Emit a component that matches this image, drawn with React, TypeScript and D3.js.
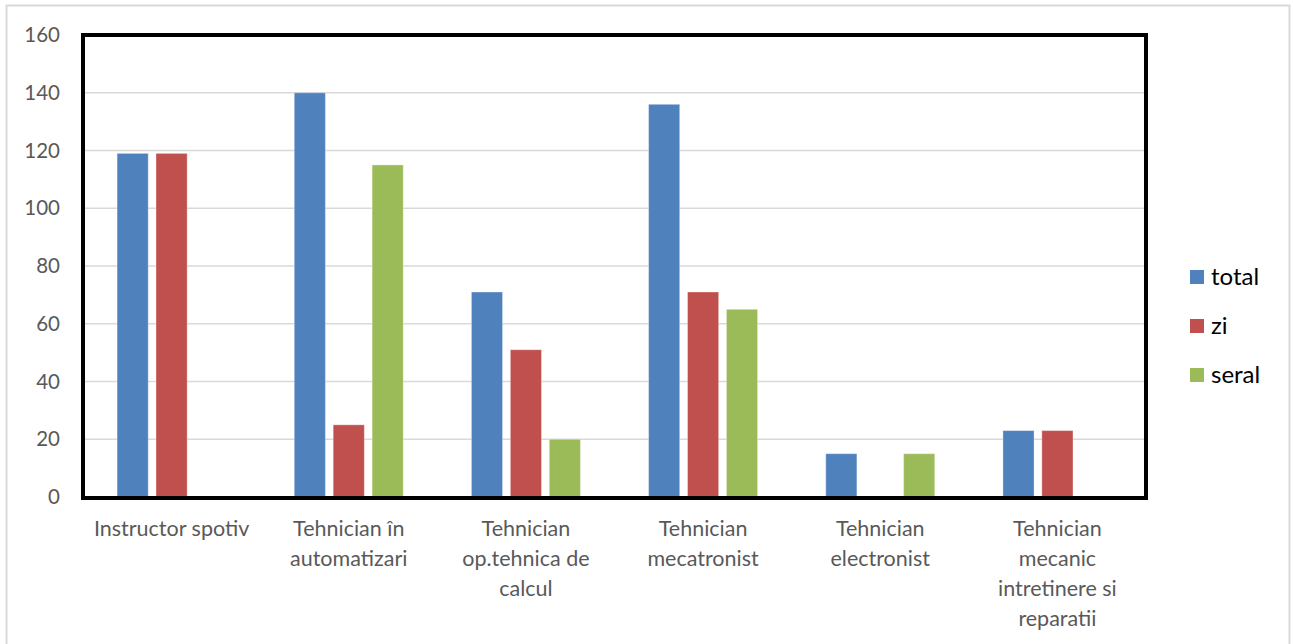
import * as d3 from "d3";
import { useRef, useEffect } from "react";

const categories = [
  ["Instructor spotiv"],
  ["Tehnician în", "automatizari"],
  ["Tehnician", "op.tehnica de", "calcul"],
  ["Tehnician", "mecatronist"],
  ["Tehnician", "electronist"],
  ["Tehnician", "mecanic", "intretinere si", "reparatii"],
];
const seriesNames = ["total", "zi", "seral"];
const seriesColors = ["#4F81BD", "#C0504D", "#9BBB59"];
const total = [119, 140, 71, 136, 15, 23];
const zi = [119, 25, 51, 71, 0, 23];
const seral = [0, 115, 20, 65, 15, 0];
const yTicks = [0, 20, 40, 60, 80, 100, 120, 140, 160];

const W = 1293;
const H = 644;
const FONT = "Lato, 'Open Sans', sans-serif";

function App() {
  const ref = useRef<SVGSVGElement>(null);

  useEffect(() => {
    const svg = d3.select(ref.current);
    svg.selectAll("*").remove();

    const plot = { left: 83, right: 1146, top: 35, bottom: 497 };
    const series = [total, zi, seral];

    // outer chart frame
    svg
      .append("rect")
      .attr("x", 6.5)
      .attr("y", 5.5)
      .attr("width", 1283)
      .attr("height", 660)
      .attr("fill", "white")
      .attr("stroke", "#d9d9d9")
      .attr("stroke-width", 2);

    const x = d3
      .scaleBand<number>()
      .domain(d3.range(categories.length))
      .range([plot.left, plot.right]);
    const inner = d3
      .scaleBand<number>()
      .domain([0, 1, 2])
      .range([0, 109])
      .paddingInner(0.2);
    const y = d3.scaleLinear().domain([0, 160]).range([plot.bottom, plot.top]);

    // gridlines
    svg
      .append("g")
      .selectAll("line")
      .data(yTicks.filter((t) => t > 0 && t < 160))
      .join("line")
      .attr("x1", plot.left)
      .attr("x2", plot.right)
      .attr("y1", (d) => y(d))
      .attr("y2", (d) => y(d))
      .attr("stroke", "#d9d9d9")
      .attr("stroke-width", 1.5);

    // y tick labels
    svg
      .append("g")
      .selectAll("text")
      .data(yTicks)
      .join("text")
      .attr("x", 60)
      .attr("y", (d) => y(d))
      .attr("dy", "0.35em")
      .attr("text-anchor", "end")
      .attr("font-family", FONT)
      .attr("font-size", 20.5)
      .attr("fill", "#595959")
      .text((d) => d);

    // bars
    series.forEach((vals, s) => {
      svg
        .append("g")
        .selectAll("rect")
        .data(vals)
        .join("rect")
        .attr("x", (_d, i) => x(i)! + (x.bandwidth() - 109) / 2 + inner(s)!)
        .attr("y", (d) => y(d))
        .attr("width", inner.bandwidth())
        .attr("height", (d) => plot.bottom - y(d))
        .attr("fill", seriesColors[s])
        .attr("stroke", "rgba(255,255,255,0.35)")
        .attr("stroke-width", 1);
    });

    // axis line
    svg
      .append("line")
      .attr("x1", plot.left)
      .attr("x2", plot.right)
      .attr("y1", plot.bottom)
      .attr("y2", plot.bottom)
      .attr("stroke", "#404040")
      .attr("stroke-width", 2);

    // thick plot border
    svg
      .append("rect")
      .attr("x", plot.left)
      .attr("y", plot.top)
      .attr("width", plot.right - plot.left)
      .attr("height", plot.bottom + 1 - plot.top)
      .attr("fill", "none")
      .attr("stroke", "black")
      .attr("stroke-width", 4);

    // category labels
    const labels = svg
      .append("g")
      .selectAll("text")
      .data(categories)
      .join("text")
      .attr("text-anchor", "middle")
      .attr("font-family", FONT)
      .attr("font-size", 21.5)
      .attr("fill", "#595959");
    labels
      .selectAll("tspan")
      .data((d, i) => d.map((line) => ({ line, i })))
      .join("tspan")
      .attr("x", (d) => x(d.i)! + x.bandwidth() / 2)
      .attr("y", (_d, j) => 536 + j * 30)
      .text((d) => d.line);

    // legend
    const legend = svg
      .append("g")
      .selectAll("g")
      .data(seriesNames)
      .join("g")
      .attr("transform", (_d, i) => `translate(1190,${277 + i * 49})`);
    legend
      .append("rect")
      .attr("x", 0)
      .attr("y", -7)
      .attr("width", 14)
      .attr("height", 14)
      .attr("fill", (_d, i) => seriesColors[i]);
    legend
      .append("text")
      .attr("x", 21)
      .attr("dy", "0.35em")
      .attr("font-family", FONT)
      .attr("font-size", 24)
      .attr("fill", "black")
      .text((d) => d);
  }, []);

  return (
    <svg
      ref={ref}
      width={W}
      height={H}
      style={{ position: "absolute", left: 0, top: 0, display: "block" }}
    ></svg>
  );
}

export default App;
